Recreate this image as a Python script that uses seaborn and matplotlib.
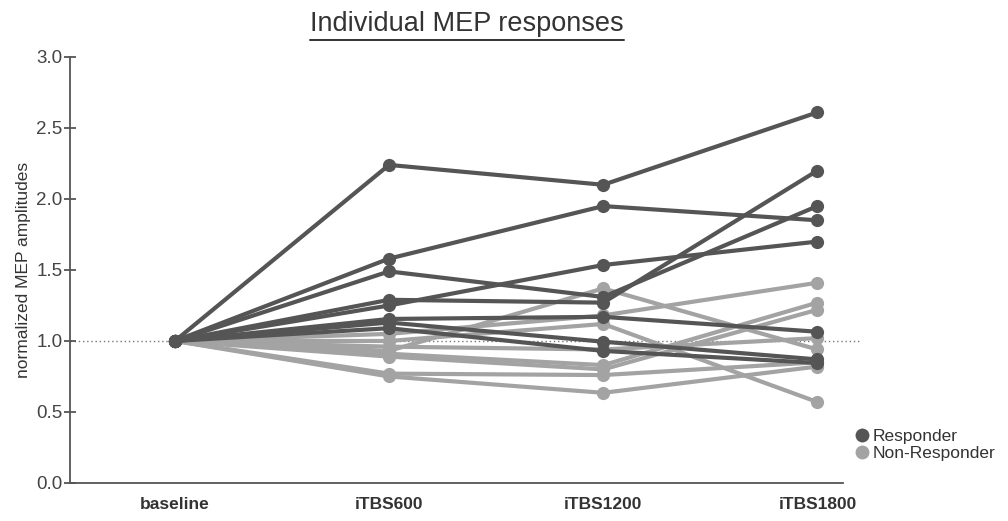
import matplotlib
matplotlib.use("Agg")
import matplotlib.pyplot as plt
import pandas as pd
import seaborn as sns
from matplotlib.lines import Line2D

timepoints = ["baseline", "iTBS600", "iTBS1200", "iTBS1800"]

# responders (dark lines)
resp_baseline = [1.0, 1.0, 1.0, 1.0, 1.0, 1.0, 1.0, 1.0]
resp_600 = [2.24, 1.58, 1.49, 1.29, 1.25, 1.155, 1.13, 1.09]
resp_1200 = [2.10, 1.95, 1.31, 1.27, 1.535, 1.17, 0.995, 0.93]
resp_1800 = [2.61, 1.85, 1.95, 2.20, 1.70, 1.065, 0.87, 0.845]

# non-responders (light lines)
nonresp_baseline = [1.0, 1.0, 1.0, 1.0, 1.0, 1.0, 1.0, 1.0]
nonresp_600 = [0.93, 1.05, 1.00, 0.96, 0.91, 0.89, 0.77, 0.75]
nonresp_1200 = [1.37, 1.18, 1.12, 0.94, 0.83, 0.80, 0.76, 0.635]
nonresp_1800 = [0.94, 1.41, 0.57, 1.02, 1.27, 1.22, 0.85, 0.82]

groups = ["Responder", "Non-Responder"]
colors = {"Responder": "#555555", "Non-Responder": "#a3a3a3"}


def to_long(group, cols, offset):
    rows = []
    for i in range(len(cols[0])):
        for t, col in zip(timepoints, cols):
            rows.append({"subject": offset + i, "group": group, "time": t, "value": col[i]})
    return rows


def main():
    rows = to_long("Non-Responder", [nonresp_baseline, nonresp_600, nonresp_1200, nonresp_1800], 100)
    rows += to_long("Responder", [resp_baseline, resp_600, resp_1200, resp_1800], 0)
    df = pd.DataFrame(rows)

    sns.set_style("white")
    plt.rcParams["font.family"] = ["Liberation Sans", "DejaVu Sans"]

    fig = plt.figure(figsize=(10.08, 5.21), dpi=100)
    ax = fig.add_axes([0.0694, 0.073, 0.767, 0.8176])

    ax.axhline(1.0, color="#777777", lw=1.0, ls=(0, (1, 2)), xmin=0, xmax=1.02, clip_on=False, zorder=0)

    sns.lineplot(data=df, x="time", y="value", hue="group", units="subject", estimator=None,
                 palette=colors, marker="o", markersize=9.5, markeredgewidth=0, linewidth=3.0,
                 sort=False, legend=False, ax=ax)

    ax.set_xlim(-0.49, 3.12)
    ax.set_ylim(0, 3.0)
    ax.set_yticks([0.0, 0.5, 1.0, 1.5, 2.0, 2.5, 3.0])
    ax.set_yticklabels(["0.0", "0.5", "1.0", "1.5", "2.0", "2.5", "3.0"])
    ax.set_xlabel("")
    ax.set_ylabel("normalized MEP amplitudes", fontsize=12.5, color="#333333", labelpad=4)

    for s in ["top", "right"]:
        ax.spines[s].set_visible(False)
    for s in ["left", "bottom"]:
        ax.spines[s].set_color("#555555")
        ax.spines[s].set_linewidth(1.3)
    ax.tick_params(axis="y", direction="inout", length=9, width=1.3, color="#555555",
                   labelsize=13.5, labelcolor="#444444", pad=1, left=True)
    ax.tick_params(axis="x", length=0, labelsize=12.5, labelcolor="#333333", pad=10)
    for lab in ax.get_xticklabels():
        lab.set_fontweight("bold")

    # underlined title
    title = fig.text(0.4635, 0.953, "Individual MEP responses", ha="center", va="center",
                     fontsize=19.5, color="#333333")
    fig.canvas.draw()
    bb = title.get_window_extent().transformed(fig.transFigure.inverted())
    fig.add_artist(Line2D([bb.x0, bb.x1], [bb.y0 - 0.004, bb.y0 - 0.004], color="#333333", lw=1.4))

    handles = [Line2D([], [], marker="o", ls="", markersize=10, markeredgewidth=0, color=colors[g]) for g in groups]
    fig.legend(handles, groups, loc="upper left", bbox_to_anchor=(0.84, 0.19), frameon=False,
               fontsize=12.5, handletextpad=0.1, labelspacing=0.1, borderaxespad=0,
               labelcolor="#333333", handlelength=1.0)

    fig.savefig("out.png", dpi=100)


if __name__ == "__main__":
    main()
